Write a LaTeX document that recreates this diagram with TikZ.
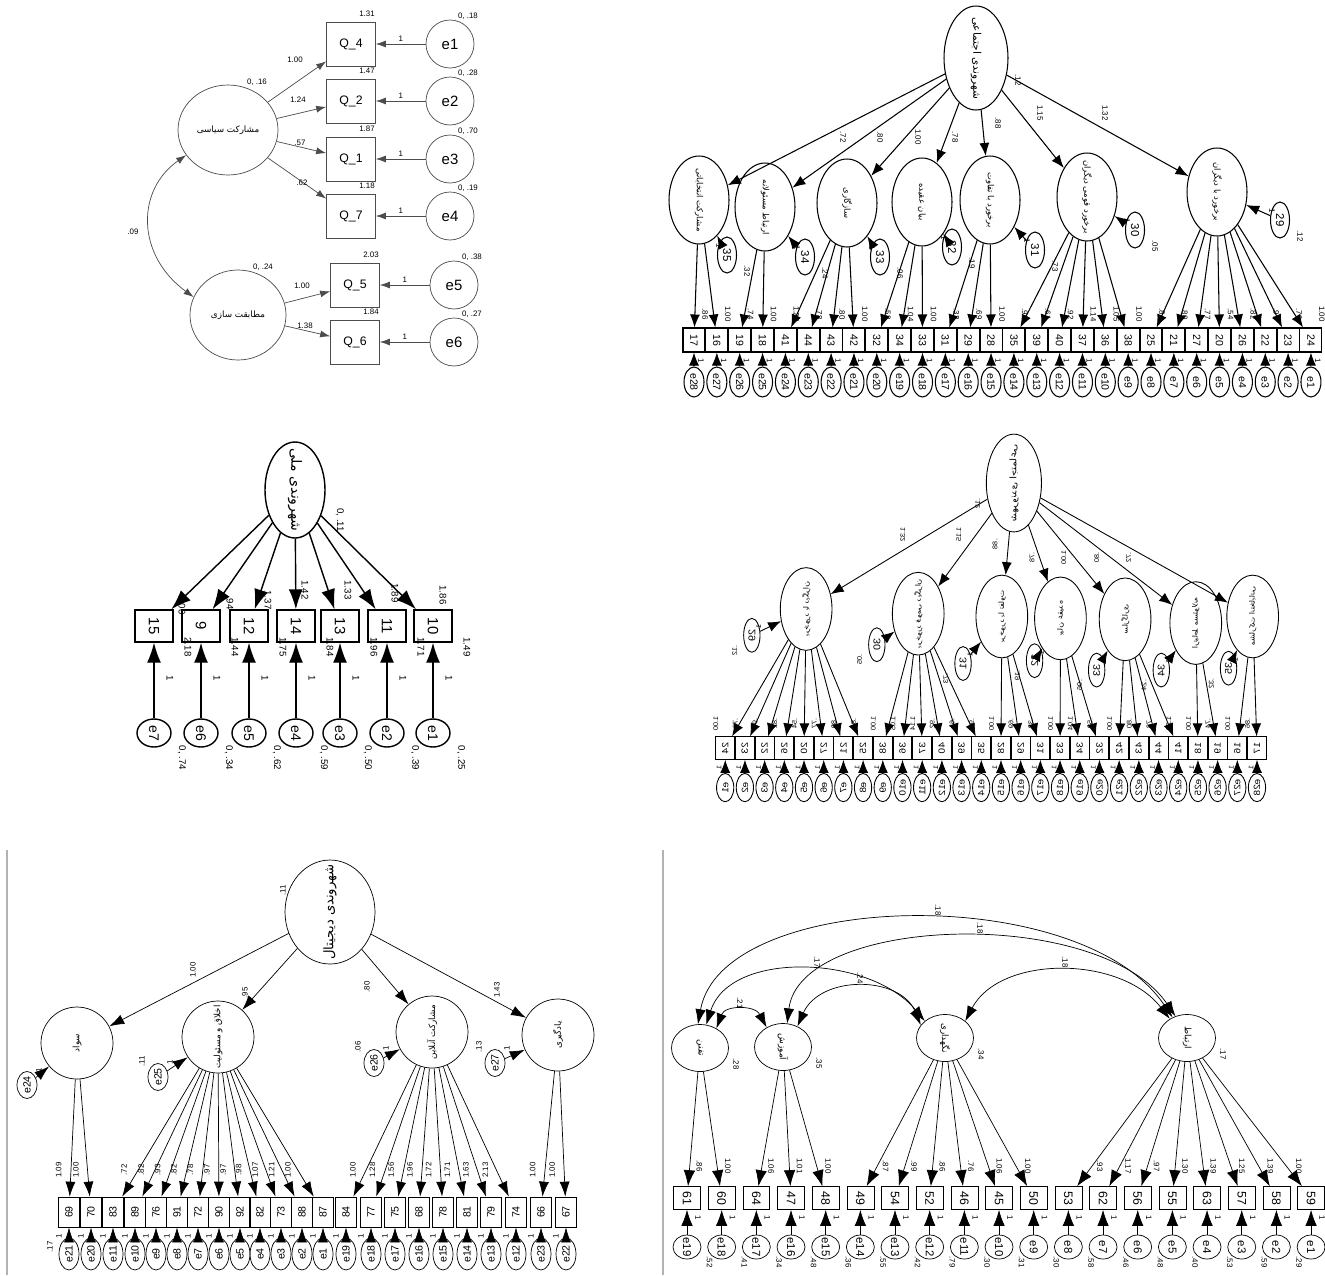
\documentclass[tikz,border=0pt]{standalone}
\usepackage{fontspec}
\setmainfont{Liberation Sans}
\newfontfamily\fa[Script=Arabic]{DejaVu Sans}
\TeXXeTstate=1
\usepackage{graphicx}
\usetikzlibrary{arrows.meta,shapes.geometric}

\newcommand{\fs}[1]{\fontsize{#1}{#1}\selectfont}
\newcommand{\fat}[1]{{\fa\beginR #1\endR}}
\newcommand{\rdown}[1]{\rotatebox{-90}{#1}}
\newcommand{\rup}[1]{\rotatebox{90}{#1}}

% social citizenship model (drawn twice), #1 = name prefix
\newcommand{\socialmodel}[1]{%
  \node[soclat, minimum width=1.28cm, minimum height=2.08cm,
        label={[font=\fs{6}]center:\rdown{{\fa\beginR شهروندی اجتماعی\endR}}}] (#1top) at (976,58) {};
  \node[num, rotate=-90] at (1018,80) {.12};
  % first-order factors
  \foreach \n/\x/\y/\w/\wx/\wy/\txt in {1/699/200/.72/843/137/مشارکت انتخاباتی,
      2/765/207/.80/880/137/ارتباط مسئولانه, 3/847/203/1.00/918/137/سازگاری,
      4/922/202/.78/955/137/بیان عقیده, 5/990/200/.88/998/123/برخورد با تفاوت,
      6/1087/197/1.15/1040/113/برخورد قومی دیگران, 7/1217/192/1.32/1105/113/برخورد با دیگران}{
    \node[soclat, label={[font=\fs{4.8}]center:\rdown{\fat{\txt}}}] (#1l\n) at (\x,\y) {};
    \draw[socarr] (#1top) -- (#1l\n);
    \node[num, rotate=-90] at (\wx,\wy) {\w};
  }
  % disturbances
  \foreach \n/\x/\y/\d/\v in {1/727/255/35/.32, 2/805/257/34/.24, 3/880/257/33/.06,
      4/952/247/32/.19, 5/1035/250/31/.73, 6/1135/230/30/.05, 7/1280/220/29/.12}{
    \node[socdist, label={[font=\fs{6.5}]center:\rdown{\d}}] (#1d\n) at (\x,\y) {};
    \draw[socarr] (#1d\n) -- (#1l\n);
    \node[num, rotate=-90] at (\x-8,\y-9) {1};
    \node[num, rotate=-90] at (\x+20,\y+16) {\v};
  }
  % indicators and their errors
  \foreach \b/\g/\w [count=\i from 0] in {17/1/.86, 16/1/1.00, 19/2/.74, 18/2/1.00,
      41/3/1.22, 44/3/.78, 43/3/.80, 42/3/1.00, 32/4/.58, 34/4/1.04, 33/4/1.00,
      31/5/.32, 29/5/.69, 28/5/1.00, 35/6/.90, 39/6/.61, 40/6/.92, 37/6/1.14,
      36/6/1.05, 38/6/1.00, 25/7/.84, 21/7/.80, 27/7/.77, 20/7/.54, 26/7/.82,
      22/7/.97, 23/7/.79, 24/7/1.00}{
    \pgfmathsetmacro\bx{694+22.85*\i}
    \pgfmathtruncatemacro\e{28-\i}
    \node[socobs] (#1b\i) at (\bx,340) {\rdown{\b}};
    \node[socerr, label={[font=\fs{6}]center:\rdown{e\e}}] (#1e\i) at (\bx,382) {};
    \draw[socarr] (#1l\g) -- (#1b\i);
    \draw[socarr] (#1e\i) -- (#1b\i);
    \node[num, rotate=-90] at (\bx+11,314) {\w};
    \node[num, rotate=-90] at (\bx+7,361) {1};
  }
}

\def\diglx{{77,218,432,558}}
\def\edulx{{700,783,945,1187}}

\begin{document}
\begin{tikzpicture}[
  x=0.02cm, y=-0.02cm,
  num/.style={font=\fs{4.5}, inner sep=0.3pt},
  numl/.style={font=\fs{5.5}, inner sep=0.3pt},
  p1lat/.style={draw=black!70, ellipse, minimum width=2cm, minimum height=1.8cm, inner sep=0, font=\fs{5}},
  p1obs/.style={draw=black!70, minimum width=0.98cm, minimum height=0.88cm, inner sep=0, font=\fs{7}},
  p1err/.style={draw=black!70, circle, minimum size=0.96cm, inner sep=0, font=\fs{8.5}},
  p1arr/.style={draw=black!70, line width=0.4pt, -{Latex[length=2mm, width=1.4mm]}},
  p1cov/.style={draw=black!70, line width=0.4pt, {Latex[length=2mm, width=1.4mm]}-{Latex[length=2mm, width=1.4mm]}},
  soclat/.style={draw, ellipse, minimum width=1.2cm, minimum height=1.76cm, inner sep=0},
  socdist/.style={draw, ellipse, minimum width=0.38cm, minimum height=0.72cm, inner sep=0},
  socobs/.style={draw, minimum width=0.44cm, minimum height=0.48cm, inner sep=0, font=\fs{6}},
  socerr/.style={draw, ellipse, minimum width=0.4cm, minimum height=0.6cm, inner sep=0},
  socarr/.style={-{Latex[length=2.6mm, width=2mm]}},
  natlat/.style={draw, ellipse, minimum width=1.2cm, minimum height=1.92cm, inner sep=0, line width=0.8pt},
  natobs/.style={draw, minimum width=0.76cm, minimum height=0.64cm, inner sep=0, font=\fs{8.5}, line width=0.8pt},
  naterr/.style={draw, ellipse, minimum width=0.68cm, minimum height=0.56cm, inner sep=0, line width=0.8pt},
  natarr/.style={line width=0.8pt, -{Latex[length=4mm, width=2.8mm]}},
  diglat/.style={draw, ellipse, minimum width=1.8cm, minimum height=2.08cm, inner sep=0},
  digcirc/.style={draw, circle, minimum size=1.44cm, inner sep=0},
  digobs/.style={draw, minimum width=0.42cm, minimum height=0.6cm, inner sep=0, font=\fs{6}},
  digerr/.style={draw, ellipse, minimum width=0.4cm, minimum height=0.64cm, inner sep=0},
  digarr/.style={-{Latex[length=3mm, width=2mm]}},
  edulat/.style={draw, ellipse, minimum width=1.14cm, minimum height=0.94cm, inner sep=0},
  eduobs/.style={draw, minimum width=0.54cm, minimum height=0.46cm, inner sep=0, font=\fs{7}},
  eduerr/.style={draw, ellipse, minimum width=0.56cm, minimum height=0.48cm, inner sep=0},
  eduarr/.style={-{Latex[length=3.2mm, width=2.3mm]}},
  educov/.style={{Latex[length=3mm, width=2.1mm]}-{Latex[length=3mm, width=2.1mm]}},
]
\fill[white] (0,0) rectangle (1325,1275);
\useasboundingbox (0,0) rectangle (1325,1275);

% ====== POLITICAL PARTICIPATION (top left) ======
\node[p1lat] (pol) at (228,130) {{\fa\beginR مشارکت سیاسی\endR}};
\node[p1lat, minimum width=1.92cm] (conf) at (238,315) {{\fa\beginR مطابقت سازی\endR}};
\node[num] at (257,82) {0, .16};
\node[num] at (263,267) {0, .24};
\draw[p1cov] (pol.211) .. controls (136,190) and (136,255) .. (conf.158);
\node[num] at (133,232) {.09};
\foreach \q/\e/\x/\y/\f/\w/\wx/\wy/\m/\v in {4/1/351/44/pol/1.00/295/60/1.31/.18,
    2/2/351/101/pol/1.24/298/100/1.47/.28, 1/3/351/159/pol/.57/300/143/1.87/.70,
    7/4/351/216/pol/.62/302/183/1.18/.19, 5/5/355/285/conf/1.00/302/286/2.03/.38,
    6/6/355/342/conf/1.38/305/326/1.84/.27}{
  \node[p1obs] (q\q) at (\x,\y) {Q\_\q};
  \node[p1err] (pe\e) at (\x+99,\y) {e\e};
  \draw[p1arr] (\f) -- (q\q);
  \draw[p1arr] (pe\e) -- node[num, above=1pt] {1} (q\q);
  \node[num] at (\wx,\wy) {\w};
  \node[num] at (\x+16,\y-30) {\m};
  \node[num] at (\x+117,\y-28) {0, \v};
}

% ====== SOCIAL CITIZENSHIP (top right, and mirrored copy) ======
\begin{scope}[line width=0.6pt]
  \socialmodel{s}
\end{scope}
\begin{scope}[shift={(1855.2,428.5)}, xscale=-0.862, yscale=0.94, transform shape, line width=0.5pt]
  \socialmodel{m}
\end{scope}

% ====== NATIONAL CITIZENSHIP (middle left) ======
\node[natlat, label={[font=\fs{8}]center:\rdown{{\fa\beginR شهروندی ملی\endR}}}] (nat) at (295,490) {};
\node[numl, rotate=-90] at (340,520) {0, .11};
\foreach \b/\x/\w/\wx/\wy/\m/\v [count=\i] in {15/154/1.00/182/605/2.18/.74,
    9/201/.94/230/603/1.44/.34, 12/249/1.37/268/600/1.75/.62, 14/296/1.42/305/590/1.84/.59,
    13/340/1.33/348/590/1.96/.50, 11/387/1.89/395/593/1.71/.39, 10/433/1.86/443/595/1.49/.25}{
  \pgfmathtruncatemacro\e{8-\i}
  \node[natobs] (nb\i) at (\x,626) {\rdown{\b}};
  \node[naterr, label={[font=\fs{8}]center:\rdown{e\e}}] (ne\i) at (\x,733) {};
  \draw[natarr] (nat) -- (nb\i);
  \draw[natarr] (ne\i) -- (nb\i);
  \node[numl, rotate=-90] at (\wx,\wy) {\w};
  \node[numl, rotate=-90] at (\x+34,647) {\m};
  \node[numl, rotate=-90] at (\x+16,678) {1};
  \node[numl, rotate=-90] at (\x+28,758) {0, \v};
}

% ====== DIGITAL CITIZENSHIP (bottom left) ======
\draw[black!30, line width=0.8pt] (7,850) -- (7,1275);
\node[diglat, label={[font=\fs{7.5}]center:\rup{{\fa\beginR شهروندی دیجیتال\endR}}}] (dig) at (330,912) {};
\node[num, rotate=90] at (283,890) {.11};
\foreach \n/\x/\y/\w/\wx/\wy/\txt in {1/77/1043/1.00/193/970/سواد,
    2/218/1037/.95/245/993/اخلاق و مسئولیت, 3/432/1032/.80/367/987/مشارکت آنلاین,
    4/558/1035/1.43/497/990/یادگیری}{
  \node[digcirc, label={[font=\fs{5}]center:\rup{\fat{\txt}}}] (dl\n) at (\x,\y) {};
  \draw[digarr] (dig) -- (dl\n);
  \node[num, rotate=90] at (\wx,\wy) {\w};
}
\foreach \n/\x/\y/\d/\v in {1/27/1085/24/{}, 2/158/1077/25/.11, 3/374/1063/26/.06, 4/495/1063/27/.13}{
  \node[digerr, minimum height=0.54cm, label={[font=\fs{6}]center:\rup{e\d}}] (dd\n) at (\x,\y) {};
  \draw[digarr] (dd\n) -- (dl\n);
  \node[num, rotate=90] at (\x+12,\y-15) {1};
  \node[num, rotate=90] at (\x-16,\y-16) {\v};
}
\foreach \b/\x/\g/\w/\e in {69/69/1/1.09/21, 70/91/1/1.00/20, 83/113/2/.72/11,
    89/135/2/.82/10, 76/156/2/.93/9, 91/177/2/.82/8, 72/198/2/.78/7, 90/219/2/.97/6,
    92/240/2/.97/5, 82/260/2/.98/4, 73/281/2/1.07/3, 88/302/2/1.21/2, 87/323/2/1.00/1,
    84/346/3/1.00/19, 77/371/3/1.28/18, 75/395/3/1.56/17, 68/419/3/1.96/16,
    78/443/3/1.72/15, 81/467/3/1.71/14, 79/491/3/1.63/13, 74/516/3/2.13/12,
    66/541/4/1.00/23, 67/566/4/1.00/22}{
  \pgfmathsetmacro\lx{\diglx[\g-1]+0.78*(\x-\diglx[\g-1])-12}
  \node[digobs] (db\b) at (\x,1212) {\rup{\b}};
  \node[digerr, label={[font=\fs{6}]center:\rup{e\e}}] (de\b) at (\x,1254) {};
  \draw[digarr] (dl\g) -- (db\b);
  \draw[digarr] (de\b) -- (db\b);
  \node[num, rotate=90] at (\lx,1170) {\w};
  \node[num, rotate=90] at (\x-10,1236) {1};
}
\node[num, rotate=90] at (50,1247) {.17};

% ====== CORRELATED FACTORS (bottom right) ======
\draw[black!30, line width=0.8pt] (663,850) -- (663,1275);
\foreach \n/\x/\y/\txt/\v in {1/700/1048/تفنن/.28, 2/783/1047/آموزش/.35,
    3/945/1038/نگهداری/.34, 4/1187/1038/ارتباط/.17}{
  \node[edulat, label={[font=\fs{5}]center:\rdown{\fat{\txt}}}] (el\n) at (\x,\y) {};
  \node[num, rotate=-90] at (\x+36,\y+16) {\v};
}
\draw[educov] (el1.50) .. controls (725,1005) and (755,1005) .. (el2.130);
\draw[educov] (el1.75) .. controls (730,950) and (870,955) .. (el3.140);
\draw[educov] (el1.95) .. controls (722,890) and (1080,880) .. (el4.125);
\draw[educov] (el2.80) .. controls (800,915) and (1100,905) .. (el4.118);
\draw[educov] (el2.55) .. controls (820,975) and (900,975) .. (el3.152);
\draw[educov] (el3.40) .. controls (1000,955) and (1120,955) .. (el4.132);
\node[num, rotate=-90] at (938,910) {.18};
\node[num, rotate=-90] at (980,928) {.18};
\node[num, rotate=-90] at (817,962) {.17};
\node[num, rotate=-90] at (860,978) {.24};
\node[num, rotate=-90] at (740,1003) {.21};
\node[num, rotate=-90] at (1065,962) {.18};
\foreach \b/\g/\w/\v [count=\i from 0] in {61/1/.86/{}, 60/1/1.00/.52, 64/2/1.06/.41,
    47/2/1.01/.34, 48/2/1.00/.48, 49/3/.87/.36, 54/3/.99/.55, 52/3/.86/.42, 46/3/.76/.79,
    45/3/1.06/.30, 50/3/1.00/.31, 53/4/.93/.30, 62/4/1.17/.58, 56/4/.97/.46, 55/4/1.30/.48,
    63/4/1.39/.40, 57/4/1.25/.53, 58/4/1.39/.59, 59/4/1.00/.29}{
  \pgfmathsetmacro\bx{687+34.67*\i}
  \pgfmathsetmacro\lx{\edulx[\g-1]+0.82*(\bx-\edulx[\g-1])+10}
  \pgfmathtruncatemacro\e{19-\i}
  \node[eduobs] (ob\i) at (\bx,1198) {\rdown{\b}};
  \node[eduerr, label={[font=\fs{6.5}]center:\rdown{e\e}}] (oe\i) at (\bx,1247) {};
  \draw[eduarr] (el\g) -- (ob\i);
  \draw[eduarr] (oe\i) -- (ob\i);
  \node[num, rotate=-90] at (\lx,1166) {\w};
  \node[num, rotate=-90] at (\bx+11,1218) {1};
  \node[num, rotate=-90] at (\bx-12,1262) {\v};
}

\end{tikzpicture}
\end{document}
